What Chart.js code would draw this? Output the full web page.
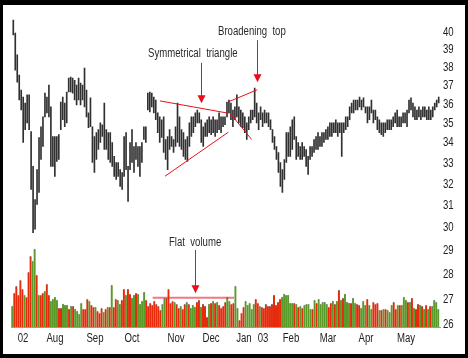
<!DOCTYPE html>
<html><head><meta charset="utf-8">
<script src="https://cdn.jsdelivr.net/npm/chart.js@4.4.1/dist/chart.umd.min.js"></script>
<style>
html,body{margin:0;padding:0;background:#000;}
#frame{position:relative;width:468px;height:358px;background:#000;overflow:hidden;}
#box{position:absolute;left:3px;top:5px;width:462px;height:349px;background:#fff;}
canvas{display:block;}
</style></head><body>
<div id="frame"><div id="box"><canvas id="c" width="462" height="349"></canvas></div></div>
<script>
// ---- Data ----
const priceHigh = [40.75,39.98,38.72,37.58,36.76,36.39,36.07,36.50,36.50,34.58,32.85,31.29,32.70,34.28,34.83,35.34,36.60,36.39,37.03,35.86,
34.33,34.33,34.33,34.43,36.12,36.39,36.07,36.66,37.42,37.47,37.42,37.30,37.03,37.42,37.14,37.03,37.97,36.76,35.55,36.34,
34.83,34.33,34.53,34.68,35.03,34.93,36.07,34.68,34.53,34.53,34.03,33.34,33.04,33.04,32.70,32.56,34.33,34.53,32.85,34.03,
34.68,33.83,34.03,33.83,33.83,34.03,34.83,34.83,36.60,36.66,36.60,36.39,36.23,35.55,35.34,35.19,35.34,34.18,34.33,34.68,
34.33,34.18,34.83,36.07,35.34,34.68,34.53,34.18,34.33,35.03,35.34,35.34,35.55,35.70,35.55,35.19,34.83,35.03,35.19,35.34,
35.19,35.34,35.19,35.19,35.55,35.34,35.34,35.34,36.12,36.23,36.07,35.70,35.86,36.50,35.86,35.70,35.55,35.34,35.03,35.34,
35.70,35.70,36.87,36.07,35.55,35.86,35.55,35.70,35.55,35.55,35.19,34.68,34.33,33.83,33.53,33.04,32.70,33.19,34.53,34.53,
34.83,35.19,35.34,34.33,34.03,33.83,34.03,33.83,33.68,33.34,33.83,33.83,34.18,34.33,34.53,34.33,34.53,34.53,34.68,34.83,
35.03,35.03,35.03,35.19,35.03,35.03,35.03,35.03,35.34,35.34,35.86,36.07,36.23,36.23,36.23,36.39,36.23,36.34,35.86,35.86,
35.86,36.23,35.70,35.70,35.34,35.19,35.03,35.03,35.03,35.19,35.19,35.19,35.34,35.55,35.70,35.34,35.34,35.55,35.55,35.70,
36.23,36.34,36.07,35.86,35.70,35.86,35.70,35.86,35.86,35.70,35.86,35.70,35.86,36.07,36.23,36.39];
const priceLow = [39.87,37.86,37.19,36.23,35.70,34.03,34.68,35.03,34.68,31.76,29.80,29.95,31.06,31.62,33.19,33.83,35.34,35.55,35.34,32.85,
32.85,32.37,33.09,33.19,34.68,35.19,34.83,35.03,36.66,36.66,36.60,36.23,35.97,36.23,35.97,36.23,35.86,35.34,34.78,34.83,
33.04,32.56,33.19,33.68,34.03,34.33,33.68,33.68,33.19,33.04,32.85,32.37,32.23,32.37,31.90,31.76,32.37,32.70,31.20,32.70,
33.04,32.56,33.19,32.85,32.37,33.04,34.18,34.03,35.70,35.60,35.86,35.55,35.19,34.53,34.03,34.28,33.53,33.19,32.70,33.68,
33.83,33.53,33.83,34.03,33.83,33.68,33.34,33.19,33.09,33.83,34.33,34.53,34.83,35.03,35.03,34.03,33.83,34.33,34.33,34.53,
34.43,34.53,34.33,34.53,34.68,34.53,34.83,34.93,35.34,35.55,35.19,34.83,35.19,35.34,35.03,34.83,34.78,34.53,34.18,34.68,
35.03,35.19,35.34,35.03,34.68,35.19,34.83,35.03,35.03,34.83,34.68,34.03,33.68,33.19,32.56,31.90,31.62,32.23,33.04,33.34,
33.34,33.68,34.18,33.19,33.34,33.19,33.19,33.34,32.85,32.47,33.19,33.34,33.53,33.68,33.68,33.83,33.83,34.03,34.18,34.18,
34.33,34.33,34.53,34.53,34.33,34.53,33.34,34.53,34.68,34.83,35.19,35.55,35.55,35.70,35.70,35.86,35.70,35.86,35.55,35.03,
35.19,35.55,35.03,35.19,34.68,34.53,34.43,34.33,34.53,34.68,34.68,34.68,34.83,35.03,34.83,34.83,34.83,35.03,35.03,34.83,
35.55,35.70,35.34,35.19,35.19,35.34,35.19,35.34,35.34,35.19,35.19,35.19,35.34,35.70,35.86,36.07];
// volume (millions of shares) and direction of each day (u = up, d = down)
const volume = [2.1,3.4,4.1,3.2,4.7,3.8,3.2,3.0,5.5,7.1,6.6,7.8,5.2,3.2,3.2,3.4,3.6,4.3,3.2,2.6,
2.8,3.0,2.7,1.9,1.9,2.3,2.2,2.2,1.8,2.1,2.1,1.8,1.6,1.3,2.4,1.8,1.8,2.8,2.6,2.2,
2.0,2.0,1.6,1.4,1.9,1.5,1.8,2.0,2.0,4.2,2.0,2.8,2.7,2.3,2.7,3.8,3.2,3.8,3.3,2.9,
3.2,3.4,3.3,2.3,2.6,3.5,2.7,2.1,2.4,2.2,2.6,2.3,2.1,1.7,2.3,2.9,2.9,3.8,2.4,2.6,
2.5,2.3,1.9,2.1,1.8,2.3,2.5,2.3,1.9,2.2,2.0,2.5,2.7,2.0,2.3,2.1,1.0,2.3,2.4,2.6,
2.4,2.5,2.2,1.9,2.1,2.5,3.0,2.6,2.3,2.4,4.1,1.9,0.7,1.4,2.0,2.6,2.2,2.4,1.8,2.3,
2.8,2.4,2.1,2.0,1.9,2.3,2.1,2.1,2.3,3.2,2.2,2.5,2.8,3.0,3.3,3.2,3.2,2.4,2.4,2.4,
2.3,2.0,2.1,1.9,2.2,2.3,2.3,1.8,1.8,2.7,2.4,2.8,2.3,2.5,2.5,2.3,2.0,2.4,2.6,2.3,
2.6,3.7,2.7,2.9,3.3,2.5,2.4,2.4,2.9,2.4,2.3,2.2,1.9,2.6,2.2,2.8,2.2,1.8,2.5,2.3,
2.4,1.7,1.7,1.8,1.8,1.7,1.5,2.2,2.5,1.8,2.2,2.2,2.2,3.0,2.7,2.5,2.5,2.9,1.9,1.8,
2.3,2.2,2.1,1.8,2.2,1.8,2.1,2.1,2.7,2.5,1.8];
const volDir = ['u','d','d','d','d','d','u','d','d','d','u','u','d','u','d','d','u','d','d','u',
'u','u','u','d','d','u','u','u','d','u','d','u','u','u','u','d','d','d','u','d',
'd','u','d','d','d','u','d','u','d','u','d','d','u','u','d','d','u','d','d','u',
'u','d','u','u','u','u','d','d','d','d','d','d','d','d','u','u','d','d','d','d',
'u','d','d','u','d','d','u','d','u','u','u','d','d','u','d','d','d','u','d','u',
'd','u','d','d','d','d','u','u','d','d','u','u','d','d','d','u','u','u','u','u',
'd','d','u','d','d','d','d','d','d','d','d','d','d','u','u','u','u','u','u','d',
'u','d','u','d','u','u','u','u','d','u','d','u','u','u','u','u','d','d','u','d',
'u','d','u','d','u','u','u','d','u','u','d','d','u','u','u','d','u','u','d','d',
'd','u','d','u','d','u','u','u','d','d','u','d','u','u','u','d','u','d','u','d',
'd','u','d','u','d','u','d','u','u','u','u'];
// month labels, placed by trading-day index on the volume axis
const tickPos = [5.27,21.05,40.77,59.01,80.7,97.95,114.2,123.6,137.4,155.6,174.4,194.1];
const tickLabels = ['02','Aug','Sep','Oct','Nov','Dec','Jan','03','Feb','Mar','Apr','May'];
const priceTicks = [26,27,28,29,30,31,32,33,34,35,36,37,38,39,40];
</script>
<script>
const RED='#e62a0c', GREEN='#5a9a2a', ANN='#e8101a';
const FONT='"Liberation Sans",Arial,sans-serif';
const SQ = 0.8; // narrow-face look
const nP = priceHigh.length, nV = volume.length;

// draws axis labels horizontally condensed (narrow typeface look)
const narrowLabels = {
  id:'narrowLabels',
  beforeDraw(chart){
    for (const id of ['x','y']) {
      const s = chart.scales[id];
      if (!s || s.__narrow) continue;
      const orig = s.drawLabels;
      s.drawLabels = function(area){
        const ctx = this.ctx, origT = ctx.translate;
        ctx.translate = function(a,b){ origT.call(this,a,b); this.scale(SQ,1); };
        try { orig.call(this, area); } finally { ctx.translate = origT; }
      };
      s.__narrow = true;
    }
  }
};

const annotate = {
  id:'annotate',
  afterDatasetsDraw(chart){
    const {ctx, scales:{x, y, yv}} = chart;
    const X = v => x.getPixelForValue(v);
    ctx.save();
    ctx.strokeStyle = ANN; ctx.fillStyle = ANN; ctx.lineWidth = 1;
    const seg = (i1,p1,i2,p2) => {ctx.beginPath();ctx.moveTo(X(i1),y.getPixelForValue(p1));ctx.lineTo(X(i2),y.getPixelForValue(p2));ctx.stroke();};
    seg(72.81,36.18,106.48,35.53);
    seg(75.28,32.38,106.48,34.55);
    seg(106.97,36.15,120.77,36.78);
    seg(107.32,35.53,118.01,34.18);
    const arrow = (px, y1, y2) => {
      ctx.beginPath(); ctx.moveTo(px+0.5,y1); ctx.lineTo(px+0.5,y2-6); ctx.stroke();
      ctx.beginPath(); ctx.moveTo(px-3.5,y2-8); ctx.lineTo(px+4.5,y2-8); ctx.lineTo(px+0.5,y2); ctx.closePath(); ctx.fill();
    };
    arrow(Math.round(X(93.02)), y.getPixelForValue(38.27), y.getPixelForValue(36.06));
    arrow(Math.round(X(120.77)), y.getPixelForValue(39.57), y.getPixelForValue(37.19));
    arrow(Math.round(X(90.06)), yv.getPixelForValue(7.7), yv.getPixelForValue(3.37));
    ctx.strokeStyle = 'rgba(232,30,40,0.6)'; ctx.lineWidth = 2;
    ctx.beginPath(); ctx.moveTo(X(69.21), yv.getPixelForValue(2.93)); ctx.lineTo(X(109.29), yv.getPixelForValue(2.93)); ctx.stroke();
    ctx.fillStyle = '#2a2a2a'; ctx.font = '12px '+FONT; ctx.textBaseline='middle'; ctx.textAlign='left';
    const txt = (s, px, py) => { ctx.save(); ctx.translate(px, py); ctx.scale(SQ,1); ctx.fillText(s, 0, 0); ctx.restore(); };
    txt('Symmetrical  triangle', X(66.89), y.getPixelForValue(38.79));
    txt('Broadening  top', X(101.4), y.getPixelForValue(40.06));
    txt('Flat  volume', X(77.24), yv.getPixelForValue(8.43));
    ctx.restore();
  }
};

new Chart(document.getElementById('c'), {
  data:{
    datasets:[
      {type:'bar', label:'Volume', xAxisID:'x', yAxisID:'yv', grouped:false,
       data: volume.map((v,i)=>({x:i, y:v})),
       backgroundColor: volDir.map(d=> d==='u'?GREEN:RED),
       borderColor:'#8c8c8c', borderWidth:{top:1,left:0,right:0,bottom:0}, borderSkipped:'bottom',
       categoryPercentage:1, barPercentage:1, order:2},
      {type:'bar', label:'Price', xAxisID:'xp', yAxisID:'y', grouped:false,
       data: priceHigh.map((h,i)=>({x:i, y:[priceLow[i], h]})),
       backgroundColor:'#303030', barThickness:1, order:1}
    ]
  },
  options:{
    responsive:false, animation:false,
    layout:{padding:{left:8, top:10, right:0, bottom:0}},
    plugins:{legend:{display:false}, tooltip:{enabled:false}},
    scales:{
      x:{type:'linear', offset:false, min:-0.64, max:nV-1+0.84, position:'bottom',
         grid:{display:false, drawTicks:false, offset:false}, border:{display:true, color:'#9a9a9a'},
         afterBuildTicks: s => { s.ticks = tickPos.map(v=>({value:v})); },
         afterFit: s => { s.height = 27; },
         ticks:{autoSkip:false, maxRotation:0, minRotation:0, padding:4, color:'#222', font:{family:FONT, size:12},
           callback:(v,i)=> tickLabels[i]}},
      xp:{type:'linear', offset:false, display:false, min:-1.16, max:nP-1+0.66, grid:{offset:false}},
      y:{type:'logarithmic', position:'right', min:25.93, max:41.05,
         grid:{display:false, drawTicks:false}, border:{display:false},
         afterBuildTicks: s => { s.ticks = priceTicks.map(v=>({value:v})); },
         afterFit: s => { s.width = 25; },
         ticks:{padding:3, color:'#222', font:{family:FONT, size:12}, callback:v=> String(v)}},
      yv:{type:'linear', display:false, min:0, max:31.2}
    }
  },
  plugins:[narrowLabels, annotate]
});
</script>
</body></html>
